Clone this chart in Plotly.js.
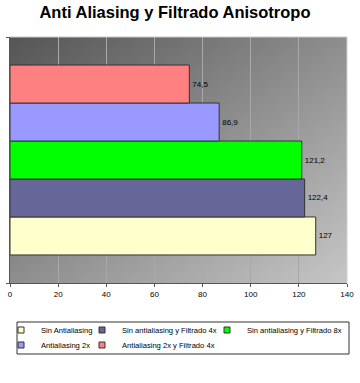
<!DOCTYPE html>
<html><head><meta charset="utf-8">
<script src="https://cdn.plot.ly/plotly-3.0.1.min.js"></script>
<style>html,body{margin:0;padding:0;background:#fff}</style>
</head><body><div id="chart" style="width:360px;height:383px"></div>
<script>
const seriesNames = ["Sin Antialiasing","Sin antialiasing y Filtrado 4x","Sin antialiasing y Filtrado 8x","Antialiasing 2x","Antialiasing 2x y Filtrado 4x"];
const seriesValues = [127, 122.4, 121.2, 86.9, 74.5];
const seriesColors = ["#FFFFCC","#666699","#00FF00","#9999FF","#FF8080"];
const category = ["Rendimiento"];
const xTicks = [0,20,40,60,80,100,120,140];

const bars = seriesNames.map((n,i)=>({
  type:"bar", orientation:"h", name:n,
  x:[seriesValues[i]], y:category,
  marker:{color:seriesColors[i], line:{color:"#333333", width:1}},
  texttemplate:"%{x}", textposition:"outside", cliponaxis:false,
  textfont:{family:"Liberation Sans, Arial", size:8, color:"#000"},
  showlegend:false, hoverinfo:"x+name"
}));
// legend entries (small square keys like the original)
const legendIds = ["legend","legend2","legend3","legend4","legend5"];
const keys = seriesNames.map((n,i)=>({
  type:"scatter", mode:"markers", name:n, x:[null], y:[null],
  marker:{symbol:"square", size:6, color:seriesColors[i], line:{color:"#333", width:1}},
  legend:legendIds[i], showlegend:true, hoverinfo:"skip"
}));

const svg = "<svg xmlns='http://www.w3.org/2000/svg' width='100' height='100' preserveAspectRatio='none'><defs><linearGradient id='g' x1='0' y1='0' x2='1' y2='1'><stop offset='0' stop-color='#555555'/><stop offset='1' stop-color='#c6c6c6'/></linearGradient></defs><rect width='100' height='100' fill='url(#g)'/></svg>";
const bgImg = "data:image/svg+xml;charset=utf-8," + encodeURIComponent(svg);

const legFont = {family:"Liberation Sans, Arial", size:7.6, color:"#000"};
const legBase = {orientation:"h", xanchor:"left", yanchor:"middle", bgcolor:"rgba(0,0,0,0)", borderwidth:0, font:legFont, itemclick:false, itemdoubleclick:false};
function px2x(p){return (p-10)/337;}
function py2y(p){return (283-p)/246;}

const layout = {
  width:360, height:383,
  margin:{l:10, r:13, t:37, b:100, autoexpand:false},
  paper_bgcolor:"#ffffff", plot_bgcolor:"rgba(0,0,0,0)",
  separators:",.",
  barmode:"group", bargap:0.228, bargroupgap:0,
  title:{text:"<b>Anti Aliasing y Filtrado Anisotropo</b>", font:{family:"Liberation Sans, Arial", size:16.5, color:"#000"}, xref:"container", yref:"container", x:0.486, xanchor:"center", y:0.968, yanchor:"middle"},
  xaxis:{range:[0,140], tickvals:xTicks, ticks:"outside", ticklen:3, tickcolor:"#555", showgrid:true, gridcolor:"#a8a8a8", gridwidth:1, showline:true, linecolor:"#555", linewidth:1, zeroline:false, tickfont:{family:"Liberation Sans, Arial", size:8, color:"#000"}, fixedrange:true},
  yaxis:{type:"category", range:[-0.5,0.5], tickmode:"array", tickvals:[-0.5,0.5], ticktext:["",""], showticklabels:false, showline:true, linecolor:"#555", linewidth:1, ticks:"outside", ticklen:3, tickcolor:"#555", showgrid:false, fixedrange:true},
  images:[{source:bgImg, xref:"paper", yref:"paper", x:0, y:1, sizex:1, sizey:1, sizing:"stretch", layer:"below", xanchor:"left", yanchor:"top"}],
  shapes:[
    {type:"line", xref:"paper", yref:"paper", x0:0, x1:1, y0:1, y1:1, line:{color:"#c8c8c8", width:1}},
    {type:"line", xref:"paper", yref:"paper", x0:1, x1:1, y0:0, y1:1, line:{color:"#d0d0d0", width:1}},
    {type:"rect", xref:"paper", yref:"paper", x0:px2x(17), x1:px2x(349), y0:py2y(322), y1:py2y(354), line:{color:"#333", width:1}, fillcolor:"rgba(0,0,0,0)"}
  ],
  legend: Object.assign({}, legBase, {x:px2x(1), y:py2y(330)}),
  legend2:Object.assign({}, legBase, {x:px2x(82), y:py2y(330)}),
  legend3:Object.assign({}, legBase, {x:px2x(207), y:py2y(330)}),
  legend4:Object.assign({}, legBase, {x:px2x(1), y:py2y(345)}),
  legend5:Object.assign({}, legBase, {x:px2x(82), y:py2y(345)}),
  showlegend:true
};

Plotly.newPlot("chart", bars.concat(keys), layout, {displayModeBar:false, staticPlot:true});
</script></body></html>
